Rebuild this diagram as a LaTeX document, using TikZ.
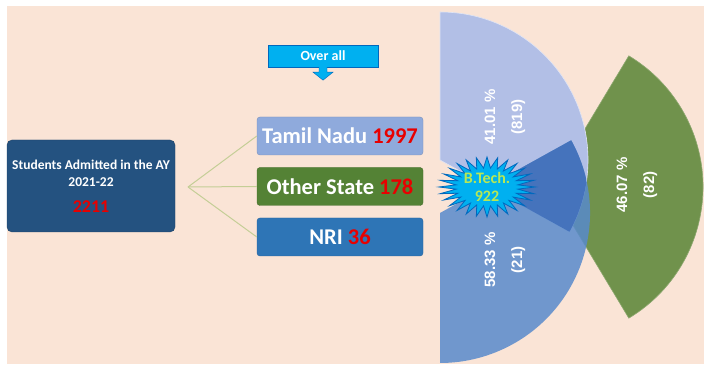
\documentclass[tikz,border=0pt]{standalone}
\usepackage{fontspec}
\setmainfont{Carlito}
\newfontfamily\arialfont{Liberation Sans}
\usetikzlibrary{positioning}

\definecolor{peach}{RGB}{250,228,214}
\definecolor{deepblue}{RGB}{36,82,128}
\definecolor{tnblue}{RGB}{143,170,220}
\definecolor{osgreen}{RGB}{84,130,53}
\definecolor{nriblue}{RGB}{46,117,182}
\definecolor{numred}{RGB}{232,0,0}
\definecolor{skyblue}{RGB}{0,176,240}
\definecolor{edgeblue}{RGB}{0,104,190}
\definecolor{lavender}{RGB}{178,191,230}
\definecolor{sliceblue}{RGB}{88,138,204}
\definecolor{wedgeblue}{RGB}{66,112,186}
\definecolor{slicegreen}{RGB}{112,146,76}
\definecolor{limegreen}{RGB}{184,232,84}
\definecolor{linkgreen}{RGB}{196,206,150}

\begin{document}
\begin{tikzpicture}[
    x=1pt, y=1pt,
    catbox/.style={rounded corners=3pt, minimum width=166pt, minimum height=38pt, inner sep=0pt,
        text=white, font=\fontsize{22.5}{26}\selectfont\bfseries},
    link/.style={linkgreen, line width=1pt},
    slice/.style={line width=0.6pt},
    pct/.style={rotate=90, text=white, align=center, font=\arialfont\fontsize{15}{27}\selectfont\bfseries}
]
    % Canvas and page
    \useasboundingbox (0,0) rectangle (704,366);
    \fill[white] (0,0) rectangle (704,366);
    \fill[peach] (7,2) rectangle (704,360);

    % --- Pie slices on the right ---
    \def\upperslice{(440,206) -- (440,354) arc[start angle=90, end angle=-29, radius=148] -- cycle}
    \def\lowerslice{(440,153) -- ++(29:150) arc[start angle=29, end angle=-90, radius=150] -- cycle}
    \fill[slicegreen, slice, draw=slicegreen!80!white] (550,179) -- ++(-59:153) arc[start angle=-59, end angle=59, radius=153] -- cycle;
    \fill[lavender, slice, draw=white!60!lavender] \upperslice;
    \fill[sliceblue, opacity=0.85] \lowerslice;
    % where the two slices overlap
    \begin{scope}
        \clip \upperslice;
        \fill[wedgeblue, opacity=0.9] \lowerslice;
    \end{scope}

    \node[pct] (upperpct) at (505,249) {41.01 \%\\(819)};
    \node[pct] (lowerpct) at (505,106) {58.33 \%\\(21)};
    \node[pct] (greenpct) at (637,181) {46.07 \%\\(82)};

    % --- Totals and categories ---
    \node[fill=deepblue, draw=deepblue!80!black, rounded corners=5pt, minimum width=168pt, minimum height=92pt,
        align=center, text=white, font=\fontsize{13.5}{17}\selectfont\bfseries] (admitted) at (91,180)
        {Students Admitted in the AY\\2021-22\\[9pt]{\color{numred}\fontsize{18}{20}\selectfont 2211}};

    \node[catbox, fill=tnblue, draw=tnblue!85!black] (tamil) at (340,230) {Tamil Nadu {\color{numred}1997}};
    \node[catbox, fill=osgreen, draw=osgreen!85!black] (other) at (340,179.5) {Other State {\color{numred}178}};
    \node[catbox, fill=nriblue, draw=nriblue!85!black] (nri) at (340,129) {NRI {\color{numred}36}};

    % Fan of links to the three boxes
    \coordinate (fan) at (188,179);
    \draw[link] (fan) -- (tamil.west);
    \draw[link] (fan) -- (other.west);
    \draw[link] (fan) -- (nri.west);

    % Over all callout
    \node[fill=skyblue, draw=edgeblue, minimum width=110pt, minimum height=22pt, inner sep=0pt,
        text=white, font=\fontsize{14}{16}\selectfont\bfseries] (overall) at (323,310) {Over all};
    \filldraw[fill=skyblue, draw=edgeblue] ([xshift=-4pt]overall.south) -- ++(0,-5) -- ++(-6,0)
        -- ++(10,-8) -- ++(10,8) -- ++(-6,0) -- ++(0,5);

    % B.Tech. burst (28 spikes on an ellipse)
    \def\burstx{487}
    \def\bursty{179}
    \filldraw[fill=skyblue, draw=edgeblue, line width=0.8pt, line join=miter, miter limit=20]
        ({\burstx+48},\bursty)
        \foreach \i in {0,...,27}
            { -- ({\burstx+31*cos((\i+0.5)*360/28)},{\bursty+19*sin((\i+0.5)*360/28)})
              -- ({\burstx+48*cos((\i+1)*360/28)},{\bursty+30*sin((\i+1)*360/28)}) } -- cycle;
    \node[align=center, text=limegreen, font=\fontsize{16}{18}\selectfont\bfseries] (btech) at (\burstx,\bursty) {B.Tech.\\922};

\end{tikzpicture}
\end{document}
